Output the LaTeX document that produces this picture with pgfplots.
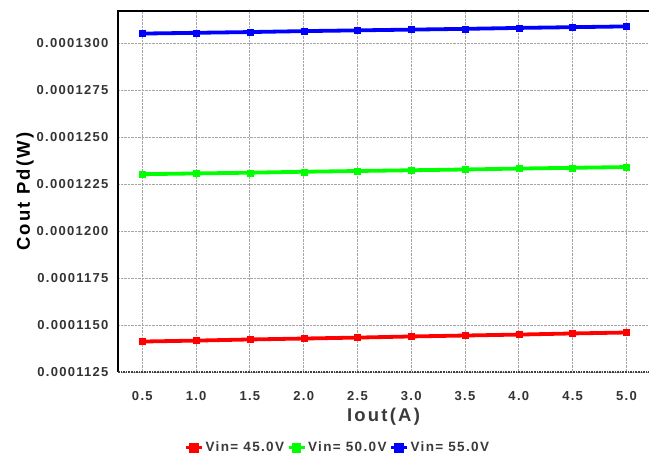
\documentclass[border=0pt]{standalone}
\usepackage{pgfplots}
\pgfplotsset{compat=1.18}
\usepackage{fontspec}
\setmainfont{Liberation Sans}
\newfontfamily\spfont[LetterSpace=10]{Liberation Sans}
\newfontfamily\labfont[LetterSpace=12]{Liberation Sans}
\definecolor{tickgray}{HTML}{333333}
\definecolor{labgray}{HTML}{3A3A3A}
\begin{document}
\begin{tikzpicture}
\useasboundingbox (0,0) rectangle (649pt,455pt);
\begin{axis}[
  at={(118pt,83pt)}, anchor=south west,
  scale only axis, width=531pt, height=361pt,
  xmin=0.274, xmax=5.21,
  ymin=0.0001125, ymax=0.0001317,
  xtick={0.5,1,1.5,2,2.5,3,3.5,4,4.5,5},
  xticklabels={0.5,1.0,1.5,2.0,2.5,3.0,3.5,4.0,4.5,5.0},
  ytick={0.0001125,0.000115,0.0001175,0.00012,0.0001225,0.000125,0.0001275,0.00013},
  yticklabels={0.0001125,0.0001150,0.0001175,0.0001200,0.0001225,0.0001250,0.0001275,0.0001300},
  scaled y ticks=false,
  axis line style={draw=none},
  major tick length=0pt,
  grid=major,
  major grid style={gray!70, densely dotted, line width=0.8pt},
  tick label style={font=\spfont\fontsize{13}{15}\selectfont\bfseries, text=tickgray},
  xticklabel style={yshift=-16pt},
  yticklabel style={xshift=-6pt},
  xlabel={Iout(A)}, ylabel={Cout Pd(W)},
  xlabel style={font=\labfont\fontsize{18.5}{20}\selectfont\bfseries, text=labgray, yshift=0pt},
  ylabel style={font=\labfont\fontsize{18.5}{20}\selectfont\bfseries, text=black, yshift=-4pt},
  legend style={at={(0.414,-0.21)}, anchor=center, draw=none, fill=none,
    legend columns=3, font=\spfont\fontsize{13.5}{15}\selectfont\bfseries, text=labgray,
    /tikz/every even column/.append style={column sep=1pt},
    inner sep=0pt},
  legend image code/.code={
    \draw[line width=3pt] (-1pt,0pt) -- (15pt,0pt);
    \fill (7pt,0pt) +(-3pt,-3pt) rectangle +(3pt,3pt);
  },
  every axis plot/.append style={line width=3.8pt, mark=square*, mark size=3pt,
    mark options={line width=0.3pt, solid}},
  clip=false,
]
\addplot[red] coordinates {
(0.5,0.00011412) (1.0,0.00011417) (1.5,0.00011423) (2.0,0.00011428) (2.5,0.00011433)
(3.0,0.00011439) (3.5,0.00011444) (4.0,0.00011449) (4.5,0.00011455) (5.0,0.00011460)};
\addlegendentry{Vin= 45.0V}
\addplot[green] coordinates {
(0.5,0.00012302) (1.0,0.00012306) (1.5,0.00012310) (2.0,0.00012315) (2.5,0.00012319)
(3.0,0.00012323) (3.5,0.00012327) (4.0,0.00012332) (4.5,0.00012336) (5.0,0.00012340)};
\addlegendentry{Vin= 50.0V}
\addplot[blue] coordinates {
(0.5,0.00013050) (1.0,0.00013054) (1.5,0.00013058) (2.0,0.00013063) (2.5,0.00013067)
(3.0,0.00013071) (3.5,0.00013075) (4.0,0.00013080) (4.5,0.00013084) (5.0,0.00013088)};
\addlegendentry{Vin= 55.0V}
\draw[black, line width=1.3pt] (rel axis cs:0,0) -- (rel axis cs:0,1) -- (rel axis cs:1,1);
\draw[black!75, densely dotted, line width=1.6pt] (rel axis cs:0,0) -- (rel axis cs:1,0);
\end{axis}
\end{tikzpicture}
\end{document}
